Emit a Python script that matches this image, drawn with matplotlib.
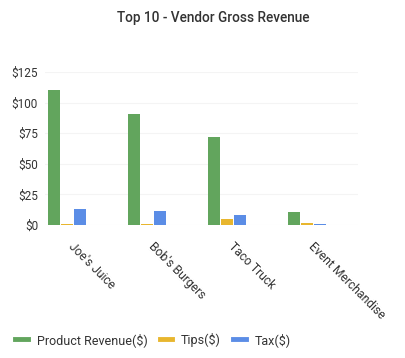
import numpy as np
import matplotlib.pyplot as plt
from matplotlib.lines import Line2D

vendors = ["Joe's Juice", "Bob's Burgers", "Taco Truck", "Event Merchandise"]
product_revenue = [110.5, 91, 71.5, 10.5]
tips = [0.5, 0.5, 4.5, 1.5]
tax = [13, 11.5, 8, 1]
series = ["Product Revenue($)", "Tips($)", "Tax($)"]
colors = ["#62a55d", "#e8b62e", "#5b8de6"]
yticks = [0, 25, 50, 75, 100, 125]

plt.rcParams['font.family'] = ['Roboto', 'DejaVu Sans']

fig = plt.figure(figsize=(4.06, 3.58), dpi=100)
# 80 px per category
ax = fig.add_axes([45/406, 133/358, 313/406, 153/358])

x = np.arange(len(vendors))
w = 0.15
step = 0.1625
for i, (vals, c, name) in enumerate(zip([product_revenue, tips, tax], colors, series)):
    ax.bar(x + (i - 1) * step, vals, width=w, color=c, label=name, zorder=3)

ax.set_xlim(-0.275, 3.64)
ax.set_ylim(0, 125)
ax.set_yticks(yticks)
ax.set_yticklabels(["$%d" % v for v in yticks], fontsize=8.5, color="#333333")
ax.grid(axis='y', color="#f4f4f4", linewidth=0.8, zorder=0)
for s in ax.spines.values():
    s.set_visible(False)
ax.tick_params(axis='both', length=0)
ax.tick_params(axis='y', pad=5)

ax.set_xticks(x + 0.1)
ax.set_xticklabels(vendors, rotation=-45, ha='left', va='top',
                   rotation_mode='anchor', fontsize=8.7, color="#333333")
ax.tick_params(axis='x', pad=11)

fig.suptitle("Top 10 - Vendor Gross Revenue", x=0.525, y=0.968, fontsize=9.8,
             fontweight='medium', color="#333333")

lh = [Line2D([0], [0], color=c, linewidth=3.5) for c in colors]
fig.legend(lh, series, loc='lower left', bbox_to_anchor=(0.01, 0.0), ncol=3,
           frameon=False, fontsize=9, handlelength=1.0, handletextpad=0.7,
           columnspacing=1.0, labelcolor="#333333")

fig.savefig("out.png", dpi=100)
